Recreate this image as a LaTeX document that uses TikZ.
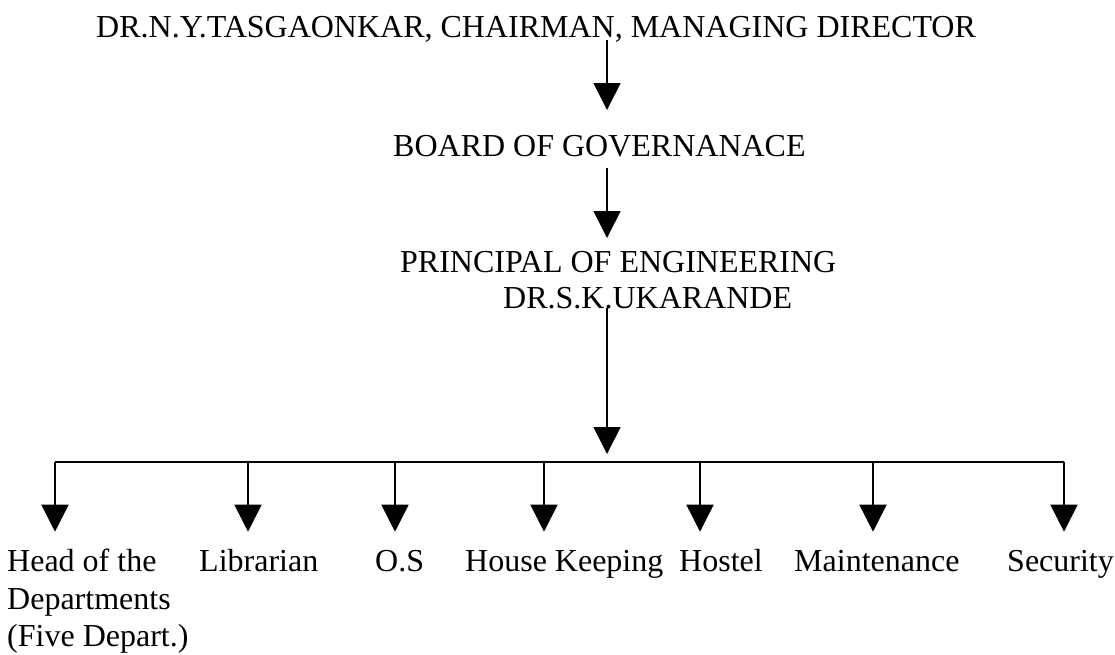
\documentclass[tikz,border=0pt]{standalone}
\usepackage{fontspec}
\setmainfont{Liberation Serif}
\usetikzlibrary{arrows.meta}
\begin{document}
\begin{tikzpicture}[x=1pt,y=-1pt,
  lbl/.style={inner sep=0pt,anchor=base west,font=\fontsize{32}{37.5}\selectfont,align=left},
  conn/.style={line width=1.6pt},
  arr/.style={line width=1.6pt,-{Triangle[width=27pt,length=27pt]}}]
\useasboundingbox (0,0) rectangle (1115,654);
% text nodes
\node[lbl] (md) at (96,37.3) {DR.N.Y.TASGAONKAR, CHAIRMAN, MANAGING DIRECTOR};
\node[lbl] (bog) at (393,156) {BOARD OF GOVERNANACE};
\node[lbl] (prin) at (400,272) {PRINCIPAL OF ENGINEERING};
\node[lbl] (uk) at (503,308) {DR.S.K.UKARANDE};
% multi-line node: base anchor is the last line's baseline
\node[lbl] (hod) at (7,646.7) {Head of the\\Departments\\(Five Depart.)};
\node[lbl] (lib) at (199,571.7) {Librarian};
\node[lbl] (os) at (375,571.7) {O.S};
\node[lbl] (hk) at (465,571.7) {House Keeping};
\node[lbl] (hos) at (679,571.7) {Hostel};
\node[lbl] (mai) at (794,571.7) {Maintenance};
\node[lbl] (sec) at (1007,571.7) {Security};
% connector coordinates
\coordinate (a1s) at (607,40);
\coordinate (a1e) at (607,110);
\coordinate (a2s) at (607,168);
\coordinate (a2e) at (607,238);
\coordinate (a3s) at (607,308);
\coordinate (a3e) at (607,454);
\coordinate (barL) at (55,461.7);
\coordinate (barR) at (1064,461.7);
\foreach \n/\x in {b1/55,b2/248,b3/395,b4/544,b5/700,b6/873,b7/1064}{
  \coordinate (\n s) at (\x,461.7);
  \coordinate (\n e) at (\x,531.7);
}
% connectors
\draw[arr] (a1s) -- (a1e);
\draw[arr] (a2s) -- (a2e);
\draw[arr] (a3s) -- (a3e);
\draw[conn] (barL) -- (barR);
\foreach \n in {b1,b2,b3,b4,b5,b6,b7}{
  \draw[arr] (\n s) -- (\n e);
}
\end{tikzpicture}
\end{document}
